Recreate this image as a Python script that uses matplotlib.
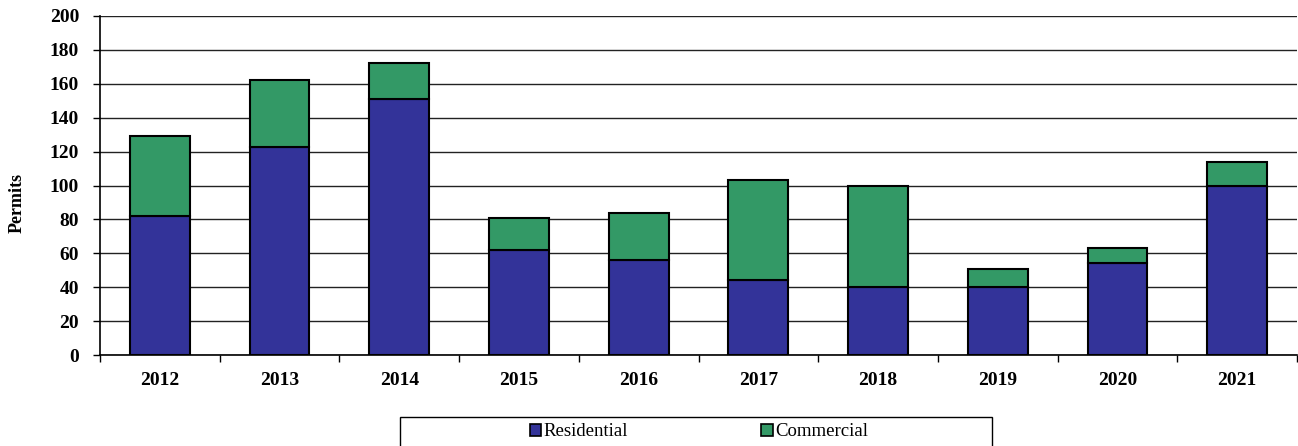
import matplotlib
matplotlib.use("Agg")
import matplotlib.pyplot as plt
from matplotlib.patches import Rectangle, Patch
import numpy as np

years = ["2012", "2013", "2014", "2015", "2016", "2017", "2018", "2019", "2020", "2021"]
residential = [82, 123, 151, 62, 56, 44, 40, 40, 54, 100]
commercial = [47, 39, 21, 19, 28, 59, 60, 11, 9, 14]

blue = "#333399"
green = "#339966"

plt.rcParams["font.family"] = ["Liberation Serif", "DejaVu Serif"]

W, H = 1298, 446
fig = plt.figure(figsize=(W / 100, H / 100), dpi=100)
ax = fig.add_axes([100 / W, 1 - 355 / H, 1197 / W, 339 / H])

x = np.arange(len(years)) + 0.5
ax.bar(x, residential, width=0.5, color=blue, edgecolor="black", linewidth=1.5, zorder=3)
ax.bar(x, commercial, width=0.5, bottom=residential, color=green, edgecolor="black",
       linewidth=1.5, zorder=3)

ax.set_xlim(0, len(years))
ax.set_ylim(0, 200)
ax.set_yticks(np.arange(0, 201, 20))
ax.yaxis.grid(True, color="#222222", linewidth=1.0, zorder=0)
ax.set_axisbelow(True)

# tick marks at category boundaries, labels at category centres
ax.set_xticks(np.arange(0, len(years) + 1))
ax.set_xticklabels([])
ax.set_xticks(x, minor=True)
ax.set_xticklabels(years, minor=True)
ax.tick_params(axis="x", which="major", direction="out", length=5, width=1, color="black")
ax.tick_params(axis="x", which="minor", length=0, pad=12)
ax.tick_params(axis="y", direction="out", length=5, width=1, pad=10)
for lab in ax.get_xticklabels(minor=True) + ax.get_yticklabels():
    lab.set_fontsize(14)
    lab.set_fontweight("bold")

for side in ["top", "right"]:
    ax.spines[side].set_visible(False)
ax.spines["left"].set_linewidth(1.2)
ax.spines["bottom"].set_linewidth(1.2)

fig.text(17 / W, 1 - 203 / H, "Permits", rotation=90, ha="center", va="center",
         fontsize=13, fontweight="bold")

# legend box
fig.patches.append(Rectangle((400 / W, -0.05), 592 / W, (H - 417) / H + 0.05,
                             transform=fig.transFigure, facecolor="white",
                             edgecolor="black", linewidth=1.0))
handles = [Patch(facecolor=blue, edgecolor="black", linewidth=1.2),
           Patch(facecolor=green, edgecolor="black", linewidth=1.2)]
fig.legend(handles, ["Residential", "Commercial"], loc="center",
           bbox_to_anchor=(699 / W, 1 - 432 / H), ncol=2, frameon=False,
           fontsize=13.5, handlelength=0.6, handleheight=0.6, handletextpad=0.15,
           columnspacing=7.1)

fig.savefig("out.png", dpi=100)
